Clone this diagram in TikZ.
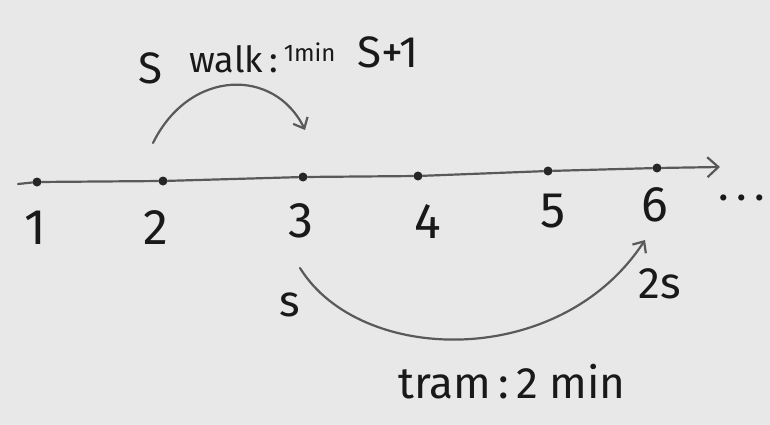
\documentclass[tikz,border=0pt]{standalone}
\usepackage{fontspec}
\setmainfont{Fira Sans}
\usetikzlibrary{arrows.meta}
\tikzset{
  pt/.style={circle, fill=black!85, inner sep=0pt, minimum size=9pt},
  num/.style={font=\fontsize{50}{50}\selectfont\light, text=black!90},
  lbl/.style={font=\fontsize{44}{44}\selectfont\light, text=black!90},
  pen/.style={line width=2.2pt, draw=black!65, line cap=round}
}
\newcommand{\light}{\fontseries{l}\selectfont}

\begin{document}
\begin{tikzpicture}[x=1pt,y=-1pt]
\fill[black!9] (0,0) rectangle (770,425);
\useasboundingbox (0,0) rectangle (770,425);
% number line
\coordinate (start) at (18,184);
\coordinate (end) at (720,167);
\node[pt] (p1) at (37,182) {};
\node[pt] (p2) at (163,181) {};
\node[pt] (p3) at (303,177) {};
\node[pt] (p4) at (418,176) {};
\node[pt] (p5) at (548,171) {};
\node[pt] (p6) at (657,168) {};
\draw[pen, -{Straight Barb[length=11pt,width=20pt]}]
  (start) -- (p1) -- (p2) -- (p3) -- (p4) -- (p5) -- (p6) -- (end);
\node[num] (n1) at (35,228) {1};
\node[num] (n2) at (156,228) {2};
\node[num] (n3) at (301,221) {3};
\node[num] (n4) at (428,222) {4};
\node[num] (n5) at (553,211) {5};
\node[num] (n6) at (655,205) {6};
\node[lbl] (dots) at (742,198) {.\,.\,.};
% walk
\coordinate (w0) at (153,143);
\coordinate (w1) at (305,130);
\draw[pen, -{Straight Barb[length=9pt,width=16pt]}]
  (w0) .. controls (190,68) and (275,68) .. (w1);
\node[lbl] (s) at (150,68) {S};
\node[lbl, anchor=west, font=\fontsize{36}{36}\selectfont\light] (walk) at (186,58)
  {walk\,:\,\raisebox{11pt}{\fontsize{24}{24}\selectfont 1min}};
\node[lbl] (s1) at (388,52) {S+1};
% tram
\coordinate (t0) at (300,268);
\coordinate (t1) at (645,240);
\draw[pen, -{Straight Barb[length=9pt,width=16pt]}]
  (t0) .. controls (360,365) and (560,370) .. (t1);
\node[lbl] (s0) at (290,305) {s};
\node[lbl] (s2) at (660,284) {2s};
\node[lbl] (tram) at (512,382) {tram\,:\,2 min};
\end{tikzpicture}
\end{document}
